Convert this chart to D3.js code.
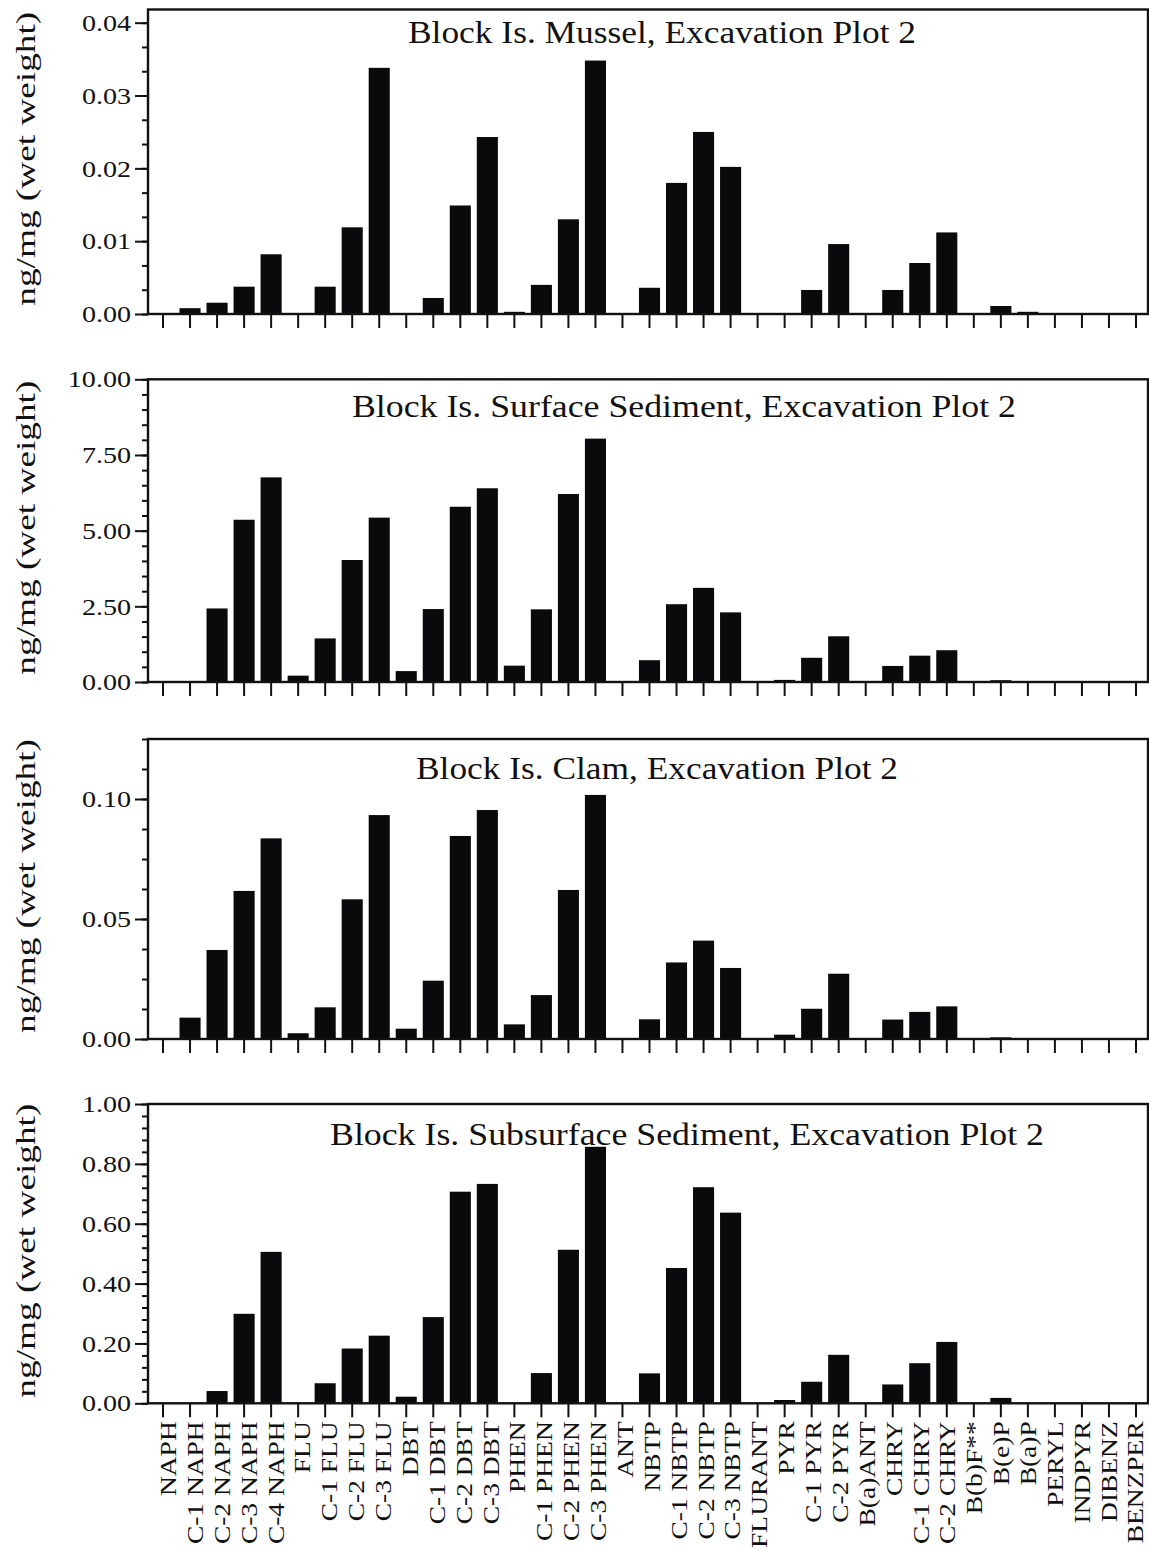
<!DOCTYPE html>
<html>
<head>
<meta charset="utf-8">
<script src="https://cdn.jsdelivr.net/npm/d3@7"></script>
<style>
  body { margin: 0; background: #fff; }
  text { font-family: "Liberation Serif", "Times New Roman", serif; fill: #111; }
</style>
</head>
<body>
<svg id="chart" width="1149" height="1551"></svg>
<script>
// PAH compounds along the shared x axis
const categories = ["NAPH", "C-1 NAPH", "C-2 NAPH", "C-3 NAPH", "C-4 NAPH",
  "FLU", "C-1 FLU", "C-2 FLU", "C-3 FLU",
  "DBT", "C-1 DBT", "C-2 DBT", "C-3 DBT",
  "PHEN", "C-1 PHEN", "C-2 PHEN", "C-3 PHEN",
  "ANT", "NBTP", "C-1 NBTP", "C-2 NBTP", "C-3 NBTP",
  "FLURANT", "PYR", "C-1 PYR", "C-2 PYR",
  "B(a)ANT", "CHRY", "C-1 CHRY", "C-2 CHRY",
  "B(b)F**", "B(e)P", "B(a)P", "PERYL", "INDPYR", "DIBENZ", "BENZPER"];

// concentrations, ng/mg wet weight
const musselValues = [0, 0.0008, 0.00155, 0.00375, 0.0082,
  0, 0.00375, 0.0119, 0.0338,
  0, 0.0022, 0.0149, 0.0243,
  0.0003, 0.0040, 0.0130, 0.0348,
  0, 0.0036, 0.0180, 0.0250, 0.0202,
  0, 0, 0.0033, 0.0096,
  0, 0.0033, 0.0070, 0.0112,
  0, 0.0011, 0.0003, 0, 0, 0, 0];

const surfaceValues = [0, 0, 2.43, 5.36, 6.76,
  0.21, 1.44, 4.03, 5.43,
  0.36, 2.41, 5.79, 6.40,
  0.54, 2.40, 6.21, 8.04,
  0, 0.72, 2.57, 3.11, 2.30,
  0, 0.07, 0.80, 1.51,
  0, 0.53, 0.87, 1.05,
  0, 0.06, 0, 0, 0, 0, 0];

const clamValues = [0, 0.0089, 0.0371, 0.0617, 0.0836,
  0.0024, 0.0132, 0.0582, 0.0933,
  0.0043, 0.0243, 0.0846, 0.0954,
  0.0061, 0.0183, 0.0621, 0.1017,
  0, 0.0082, 0.0319, 0.0410, 0.0296,
  0, 0.0018, 0.0126, 0.0272,
  0, 0.0081, 0.0113, 0.0136,
  0, 0.0007, 0, 0, 0, 0, 0];

const subsurfaceValues = [0, 0, 0.041, 0.299, 0.506,
  0, 0.067, 0.183, 0.226,
  0.022, 0.288, 0.707, 0.733,
  0, 0.101, 0.513, 0.857,
  0, 0.100, 0.452, 0.722, 0.637,
  0, 0.011, 0.072, 0.162,
  0, 0.063, 0.134, 0.205,
  0, 0.018, 0, 0, 0, 0, 0];

// y-axis labelled ticks
const musselTicks = [0, 0.01, 0.02, 0.03, 0.04];
const surfaceTicks = [0, 2.5, 5, 7.5, 10];
const clamTicks = [0, 0.05, 0.10];
const subsurfaceTicks = [0, 0.2, 0.4, 0.6, 0.8, 1.0];

const panelTitles = [
  "Block Is. Mussel, Excavation Plot 2",
  "Block Is. Surface Sediment, Excavation Plot 2",
  "Block Is. Clam, Excavation Plot 2",
  "Block Is. Subsurface Sediment, Excavation Plot 2"
];
const yAxisTitle = "ng/mg (wet weight)";

// ---- layout ----
const panels = [
  { values: musselValues, ticks: musselTicks, yMax: 0.04181, minorDiv: 3,
    top: 9.5, bottom: 314, titleX: 408, titleY: 43, titleW: 508 },
  { values: surfaceValues, ticks: surfaceTicks, yMax: 10, minorDiv: 5,
    top: 379.3, bottom: 682, titleX: 352, titleY: 417, titleW: 664 },
  { values: clamValues, ticks: clamTicks, yMax: 0.125, minorDiv: 4,
    top: 739, bottom: 1039, titleX: 416, titleY: 779, titleW: 482 },
  { values: subsurfaceValues, ticks: subsurfaceTicks, yMax: 1.0, minorDiv: 5,
    top: 1104, bottom: 1403.3, titleX: 330, titleY: 1144.5, titleW: 714 }
];
const frameLeft = 148, frameRight = 1148;

const svg = d3.select("#chart");

const x = d3.scaleBand()
  .domain(categories)
  .range([149.5, 1149.5])
  .paddingInner(0.22)
  .paddingOuter(0.11);

// category labels drift slightly right of their ticks toward the left end
const labelShift = d3.scaleLinear().domain([0, categories.length - 1]).range([5.5, 0]);

// widen serif text along its reading direction
function stretch(sel, k) {
  sel.each(function () {
    const w = this.getComputedTextLength();
    d3.select(this).attr("textLength", w * k).attr("lengthAdjust", "spacingAndGlyphs");
  });
}

panels.forEach((p, i) => {
  const g = svg.append("g");
  const y = d3.scaleLinear().domain([0, p.yMax]).range([p.bottom, p.top]);

  // bars
  g.append("g").selectAll("rect")
    .data(categories.map((c, j) => ({ c, v: p.values[j] })))
    .join("rect")
    .attr("x", d => x(d.c))
    .attr("width", x.bandwidth())
    .attr("y", d => y(d.v))
    .attr("height", d => y(0) - y(d.v))
    .attr("fill", "#0a0a0c");

  // minor y ticks
  const step = (p.ticks[1] - p.ticks[0]) / p.minorDiv;
  const minor = d3.range(0, p.yMax + 1e-9, step).filter(v => v <= p.yMax);
  const minorAxis = g.append("g")
    .attr("transform", `translate(${frameLeft},0)`)
    .call(d3.axisLeft(y).tickValues(minor).tickSize(6).tickFormat(""));
  minorAxis.select(".domain").remove();
  minorAxis.selectAll("line").attr("stroke", "#111").attr("stroke-width", 2);

  // major y ticks with labels
  const yAxis = g.append("g")
    .attr("transform", `translate(${frameLeft},0)`)
    .call(d3.axisLeft(y).tickValues(p.ticks).tickSize(13).tickPadding(4)
      .tickFormat(d3.format(".2f")));
  yAxis.select(".domain").remove();
  yAxis.selectAll("line").attr("stroke", "#111").attr("stroke-width", 2);
  yAxis.selectAll("text")
    .attr("font-family", "Liberation Serif")
    .attr("font-size", 24)
    .attr("fill", "#111")
    .call(stretch, 1.17);

  // x ticks
  const last = i === panels.length - 1;
  const xAxis = g.append("g")
    .attr("transform", `translate(0,${p.bottom})`)
    .call(d3.axisBottom(x).tickSize(14).tickSizeOuter(0)
      .tickFormat(last ? (d => d) : ""));
  xAxis.select(".domain").remove();
  xAxis.selectAll("line").attr("stroke", "#111").attr("stroke-width", 2);
  if (last) {
    xAxis.selectAll("text")
      .attr("font-family", "Liberation Serif")
      .attr("font-size", 22.5)
      .attr("fill", "#111")
      .attr("transform", "rotate(-90)")
      .attr("text-anchor", "end")
      .attr("x", -18)
      .attr("y", (d, j) => 7.5 + labelShift(j))
      .attr("dy", null)
      .call(stretch, 1.22);
  } else {
    xAxis.selectAll("text").remove();
  }

  // frame
  g.append("rect")
    .attr("x", frameLeft)
    .attr("y", p.top)
    .attr("width", frameRight - frameLeft)
    .attr("height", p.bottom - p.top)
    .attr("fill", "none")
    .attr("stroke", "#111")
    .attr("stroke-width", 2.4);

  // panel title
  g.append("text")
    .attr("x", p.titleX)
    .attr("y", p.titleY)
    .attr("font-size", 31)
    .attr("textLength", p.titleW)
    .attr("lengthAdjust", "spacingAndGlyphs")
    .text(panelTitles[i]);

  // y-axis title
  const cy = (p.top + p.bottom) / 2 - 3;
  g.append("text")
    .attr("transform", `translate(35,${cy}) rotate(-90)`)
    .attr("text-anchor", "middle")
    .attr("font-size", 28)
    .attr("textLength", 294)
    .attr("lengthAdjust", "spacingAndGlyphs")
    .text(yAxisTitle);
});
</script>
</body>
</html>
